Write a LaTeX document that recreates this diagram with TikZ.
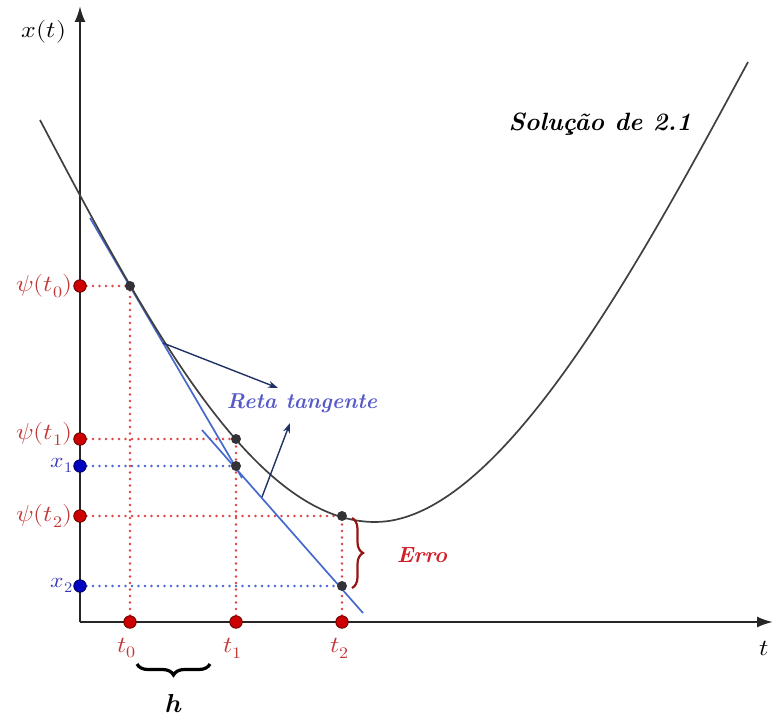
\documentclass[tikz,border=0pt]{standalone}
\usepackage{fontspec}
\usepackage{unicode-math}
\usetikzlibrary{arrows.meta,decorations.pathreplacing}
\newcommand{\hstr}[1]{\scalebox{1.12}[1]{#1}}
\definecolor{psired}{RGB}{195,55,55}
\definecolor{xblue}{RGB}{55,55,185}
\definecolor{dotred}{RGB}{225,65,65}
\definecolor{dotblue}{RGB}{70,100,210}
\definecolor{tanblue}{RGB}{70,105,205}
\definecolor{navy}{RGB}{30,50,100}
\definecolor{retablue}{RGB}{85,90,200}
\definecolor{errored}{RGB}{210,30,40}
\definecolor{bracered}{RGB}{150,20,20}
\definecolor{ptgray}{RGB}{50,50,55}
\begin{document}
\begin{tikzpicture}[x=1pt,y=-1pt,
  axis/.style={line width=2.2pt,black!85,-{Latex[length=16pt,width=11pt]}},
  curve/.style={line width=1.7pt,black!75},
  tangent/.style={line width=1.7pt,tanblue},
  pointer/.style={line width=1.4pt,navy,-{Stealth[length=10pt,width=7pt]}},
  reddot/.style={dash pattern=on 0pt off 6.5pt,line cap=round,line width=2.8pt,dotred},
  bluedot/.style={dash pattern=on 0pt off 6.5pt,line cap=round,line width=2.8pt,dotblue},
  rmark/.style={circle,fill=red!80!black,draw=red!40!black,line width=0.8pt,inner sep=0pt,minimum size=12.5pt},
  bmark/.style={circle,fill=blue!75!black,draw=blue!40!black,line width=0.8pt,inner sep=0pt,minimum size=12.5pt},
  pmark/.style={circle,fill=ptgray,inner sep=0pt,minimum size=10pt},
  mlab/.style={inner sep=1pt,font=\fontsize{23}{27}\selectfont},
  brc/.style={decorate,decoration={brace,amplitude=11pt}}]
\useasboundingbox (0,0) rectangle (773,717);
% axes
\coordinate (O) at (80,622);
\coordinate (ytop) at (80,6);
\coordinate (xend) at (773,622);
% points on curve / approximations
\coordinate (P0) at (130,286);
\coordinate (P1) at (236,439);
\coordinate (Q1) at (236,466);
\coordinate (P2) at (342,516);
\coordinate (Q2) at (342,586);
% axis marks
\coordinate (T0) at (130,622);
\coordinate (T1) at (236,622);
\coordinate (T2) at (342,622);
\coordinate (Y0) at (80,286);
\coordinate (Y1) at (80,439);
\coordinate (X1) at (80,466);
\coordinate (Y2) at (80,516);
\coordinate (X2) at (80,586);
% dotted guides
\draw[reddot] (Y0) -- (P0);
\draw[reddot] (Y1) -- (P1);
\draw[reddot] (Y2) -- (P2);
\draw[bluedot] (X1) -- (Q1);
\draw[bluedot] (X2) -- (Q2);
\draw[reddot] (T0) -- (P0);
\draw[reddot] (T1) -- (P1);
\draw[reddot] (T2) -- (P2);
% axes
\draw[axis] (O) -- (ytop);
\draw[axis] (O) -- (xend);
% tangents
\coordinate (A1) at (90,218);
\coordinate (B1) at (242,478);
\coordinate (A2) at (202,430);
\coordinate (B2) at (363,613);
\draw[tangent] (A1) -- (B1);
\draw[tangent] (A2) -- (B2);
% solution curve
\coordinate (C0) at (40,120);
\coordinate (Cm) at (375,522);
\coordinate (C1) at (748,62);
\draw[curve] (C0) .. controls (150,329) and (255,522) .. (Cm)
                  .. controls (500,522) and (640,262) .. (C1);
% pointers
\coordinate (R1s) at (163,343);
\coordinate (R1e) at (278,388);
\coordinate (R2s) at (262,497);
\coordinate (R2e) at (290,423);
\draw[pointer] (R1s) -- (R1e);
\draw[pointer] (R2s) -- (R2e);
% marks
\foreach \p in {T0,T1,T2,Y0,Y1,Y2} \node[rmark] at (\p) {};
\foreach \p in {X1,X2} \node[bmark] at (\p) {};
\foreach \p in {P0,P1,Q1,P2,Q2} \node[pmark] at (\p) {};
% braces
\coordinate (E1) at (352,518);
\coordinate (E2) at (352,588);
\draw[brc,line width=2.2pt,bracered] (E1) -- (E2);
\coordinate (H1) at (210,664);
\coordinate (H2) at (137,664);
\draw[brc,line width=3.2pt,black] (H1) -- (H2);
% labels
\node[mlab] (lx) at (44,32) {\hstr{$x(t)$}};
\node[mlab] (lt) at (764,648) {\hstr{$t$}};
\node[mlab,anchor=east,psired] (l0) at (74,286) {\hstr{$\psi(t_0)$}};
\node[mlab,anchor=east,psired] (l1) at (74,434) {\hstr{$\psi(t_1)$}};
\node[mlab,anchor=east,xblue,font=\fontsize{21}{25}\selectfont] (l2) at (74,465) {\hstr{$x_1$}};
\node[mlab,anchor=east,psired] (l3) at (74,516) {\hstr{$\psi(t_2)$}};
\node[mlab,anchor=east,xblue,font=\fontsize{21}{25}\selectfont] (l4) at (74,585) {\hstr{$x_2$}};
\node[mlab,psired] (lt0) at (127,648) {\hstr{$t_0$}};
\node[mlab,psired] (lt1) at (233,648) {\hstr{$t_1$}};
\node[mlab,psired] (lt2) at (340,648) {\hstr{$t_2$}};
\node[inner sep=1pt,font=\fontsize{26}{30}\selectfont] (lh) at (174,704) {$\symbfit{h}$};
\node[font=\fontsize{21.5}{25}\selectfont\bfseries\itshape,retablue] (reta) at (302,403) {Reta tangente};
\node[font=\fontsize{25}{29}\selectfont\bfseries\itshape,black] (sol) at (600,124) {Solução de 2.1};
\node[font=\fontsize{22}{26}\selectfont\bfseries\itshape,errored] (erro) at (422,555) {Erro};
\end{tikzpicture}
\end{document}
